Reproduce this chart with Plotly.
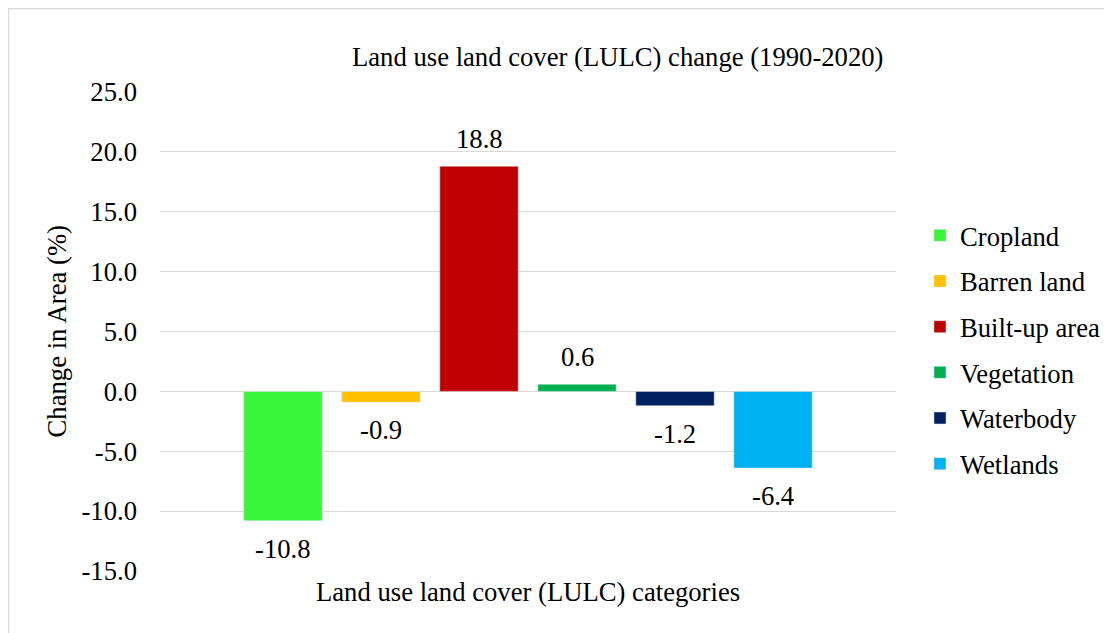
import plotly.graph_objects as go

categories = ["Cropland", "Barren land", "Built-up area", "Vegetation", "Waterbody", "Wetlands"]
values = [-10.8, -0.9, 18.8, 0.6, -1.2, -6.4]
colors = ["#3BF53B", "#FFC000", "#C00000", "#00B050", "#002060", "#00B0F0"]
y_ticks = [-15, -10, -5, 0, 5, 10, 15, 20, 25]
y_tick_text = ["-15.0", "-10.0", "-5.0", "0.0", "5.0", "10.0", "15.0", "20.0", "25.0"]

FONT = "Liberation Serif, Times New Roman, serif"
FS = 26.67

fig = go.Figure()
for name, val, col in zip(categories, values, colors):
    fig.add_trace(go.Bar(
        x=[name], y=[val], name=name, marker_color=col, width=0.8,
        legendgroup=name, showlegend=True,
    ))
    fig.add_annotation(
        x=name, y=val, xref="x", yref="y", text=f"{val:.1f}",
        showarrow=False, yanchor="middle", xanchor="center",
        yshift=27 if val >= 0 else -28,
        font=dict(family=FONT, size=FS, color="#000000"),
    )

fig.add_annotation(
    text="Land use land cover (LULC) change (1990-2020)", xref="paper", yref="paper",
    x=0.6216, y=1.073, showarrow=False, xanchor="center", yanchor="middle",
    font=dict(family=FONT, size=FS, color="#000000"),
)
fig.add_annotation(
    text="Land use land cover (LULC) categories", xref="paper", yref="paper",
    x=0.5, y=-0.0438, showarrow=False, xanchor="center", yanchor="middle",
    font=dict(family=FONT, size=FS, color="#000000"),
)
fig.add_annotation(
    text="Change in Area (%)", xref="paper", yref="paper",
    x=-0.14, y=0.5, showarrow=False, xanchor="center", yanchor="middle",
    textangle=-90,
    font=dict(family=FONT, size=FS, color="#000000"),
)

fig.add_shape(
    type="rect", xref="paper", yref="paper",
    x0=-0.2058, y0=-0.3, x1=1.5, y1=1.1743,
    line=dict(color="#D9D9D9", width=1.3), fillcolor="rgba(0,0,0,0)",
    layer="below",
)

fig.update_layout(
    width=1104, height=625,
    margin=dict(l=152, r=216, t=84, b=62, autoexpand=False),
    paper_bgcolor="white", plot_bgcolor="white",
    barmode="overlay",
    font=dict(family=FONT, size=FS, color="#000000"),
    legend=dict(
        x=1.0326, y=0.4614, xanchor="left", yanchor="middle",
        font=dict(family=FONT, size=FS, color="#000000"),
        tracegroupgap=8, bgcolor="rgba(0,0,0,0)",
    ),
    showlegend=True,
)
fig.update_xaxes(
    categoryorder="array", categoryarray=categories,
    range=[-1.255, 6.255], showticklabels=False, showgrid=False,
    zeroline=False, showline=False, ticks="",
)
fig.update_yaxes(
    range=[-15, 25], tickvals=y_ticks, ticktext=y_tick_text,
    showgrid=True, gridcolor="#D9D9D9", gridwidth=1,
    zeroline=True, zerolinecolor="#D9D9D9", zerolinewidth=1,
    showline=False, ticks="", ticklabelstandoff=22,
    tickfont=dict(family=FONT, size=FS, color="#000000"),
)

fig.write_html("out.html")
